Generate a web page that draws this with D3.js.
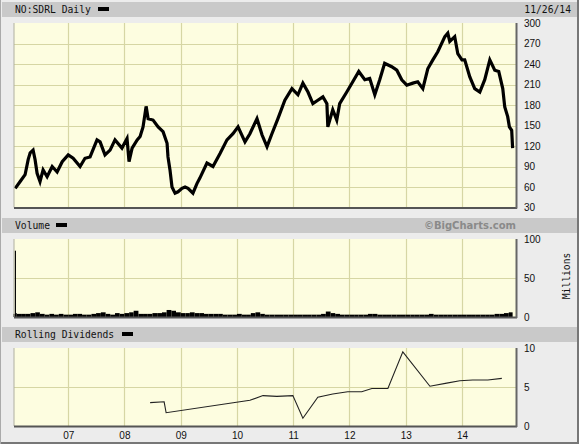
<!DOCTYPE html>
<html><head><meta charset="utf-8">
<script src="https://cdn.jsdelivr.net/npm/d3@7"></script>
<style>body{margin:0;background:#ececec}svg{display:block}</style>
</head><body><svg id="c" width="579" height="444"></svg>
<script>
// ---------- DATA ----------
const title = "NO:SDRL Daily";
const dateLabel = "11/26/14";
const priceDates = ["2006-01-22","2006-02-23","2006-03-27","2006-04-16","2006-04-29","2006-05-18","2006-05-31","2006-06-13","2006-07-02","2006-07-22","2006-08-17","2006-09-19","2006-10-21","2006-11-23",
"2007-01-01","2007-02-02","2007-03-19","2007-04-20","2007-05-23","2007-07-07","2007-07-27","2007-08-28","2007-09-30","2007-11-01","2007-12-16",
"2008-01-18","2008-01-31","2008-02-20","2008-03-24","2008-04-12","2008-05-01","2008-05-21","2008-06-03","2008-07-05","2008-08-07","2008-09-08","2008-10-04","2008-10-10","2008-10-23","2008-11-05","2008-11-25","2008-12-14",
"2009-01-09","2009-01-29","2009-02-17","2009-03-21","2009-04-16","2009-05-05","2009-06-20","2009-07-29","2009-09-13","2009-10-28","2009-12-06",
"2010-01-08","2010-02-22","2010-03-26","2010-05-11","2010-06-13","2010-07-15","2010-08-16","2010-09-24","2010-11-08","2010-12-24",
"2011-02-01","2011-03-05","2011-04-07","2011-05-09","2011-06-10","2011-07-13","2011-08-08","2011-08-14","2011-09-15","2011-10-11","2011-10-30","2011-12-15",
"2012-01-23","2012-03-02","2012-04-10","2012-05-12","2012-06-14","2012-07-16","2012-08-17","2012-10-02","2012-11-04","2012-12-06",
"2013-01-08","2013-02-16","2013-03-20","2013-04-22","2013-05-24","2013-06-26","2013-07-28","2013-09-12","2013-10-01","2013-10-14","2013-11-15","2013-12-05",
"2014-01-01","2014-01-19","2014-02-21","2014-03-25","2014-04-27","2014-05-29","2014-07-01","2014-08-02","2014-08-28","2014-09-23","2014-10-06","2014-10-25","2014-11-05","2014-11-20","2014-11-26"];
const priceValues = [58,68,78,100,110,114,100,80,68,85,75,90,82,97,
107,102,90,102,104,129,126,107,114,129,117,
131,97,117,129,134,148,178,160,158,148,141,124,104,85,60,51,53,
58,60,58,51,65,73,95,90,109,129,138,
148,126,138,160,136,119,138,160,187,204,
195,212,199,182,187,192,182,148,173,158,182,199,
214,229,217,219,195,217,241,236,231,217,
209,212,214,204,233,246,258,280,285,273,280,255,
246,246,221,204,199,217,246,231,229,204,177,163,148,143,117];

const volDates = ["2006-01-10","2006-01-19","2006-01-21","2006-02-01","2006-03-01","2006-04-01","2006-05-01","2006-06-01","2006-07-01","2006-08-01","2006-09-01","2006-10-01","2006-11-01","2006-12-01",
"2007-01-01","2007-02-01","2007-03-01","2007-04-01","2007-05-01","2007-06-01","2007-07-01","2007-08-01","2007-09-01","2007-10-01","2007-11-01","2007-12-01",
"2008-01-01","2008-02-01","2008-03-01","2008-04-01","2008-05-01","2008-06-01","2008-07-01","2008-08-01","2008-09-01","2008-10-01","2008-11-01","2008-12-01",
"2009-01-01","2009-02-01","2009-03-01","2009-04-01","2009-05-01","2009-06-01","2009-07-01","2009-08-01","2009-09-01","2009-10-01","2009-11-01","2009-12-01",
"2010-01-01","2010-02-01","2010-03-01","2010-04-01","2010-05-01","2010-06-01","2010-07-01","2010-08-01","2010-09-01","2010-10-01","2010-11-01","2010-12-01",
"2011-01-01","2011-02-01","2011-03-01","2011-04-01","2011-05-01","2011-06-01","2011-07-01","2011-08-01","2011-09-01","2011-10-01","2011-11-01","2011-12-01",
"2012-01-01","2012-02-01","2012-03-01","2012-04-01","2012-05-01","2012-06-01","2012-07-01","2012-08-01","2012-09-01","2012-10-01","2012-11-01","2012-12-01",
"2013-01-01","2013-02-01","2013-03-01","2013-04-01","2013-05-01","2013-06-01","2013-07-01","2013-08-01","2013-09-01","2013-10-01","2013-11-01","2013-12-01",
"2014-01-01","2014-02-01","2014-03-01","2014-04-01","2014-05-01","2014-06-01","2014-07-01","2014-08-01","2014-09-01","2014-10-01","2014-11-01","2014-11-26"];
const volValues = [4,85,5,4,4,4,5,6,4,3,4,3,4,3,
3,4,4,3,3,4,5,6,4,3,5,4,
5,6,8,4,4,4,5,5,6,9,8,6,
5,5,6,5,5,4,4,4,4,3,3,3,
4,3,3,5,6,4,3,3,3,3,3,3,
3,3,3,3,3,3,4,7,5,4,3,3,
3,3,3,3,4,4,3,3,3,3,3,3,
3,3,3,3,3,4,3,3,3,3,3,3,
3,3,3,3,3,3,3,4,4,5,6,6];

const divDates = ["2008-06-16","2008-09-15","2008-09-28","2010-03-26","2010-06-19","2010-09-17","2010-12-30","2011-03-05","2011-06-10","2011-09-15","2011-12-21","2012-03-21","2012-05-26","2012-09-07","2012-12-13","2013-06-07","2013-09-24","2013-12-18","2014-03-12","2014-06-18","2014-09-17"];
const divValues = [3.0,3.1,1.7,3.3,3.9,3.8,3.9,1.0,3.7,4.1,4.4,4.4,4.8,4.8,9.5,5.1,5.5,5.8,5.9,5.9,6.1];

const priceTicks = [30,60,90,120,150,180,210,240,270,300];
const volTicks = [0,50,100];
const divTicks = [0,5,10];
const yearTicks = ["2007","2008","2009","2010","2011","2012","2013","2014"];
const yearLabels = ["07","08","09","10","11","12","13","14"];

// ---------- DRAW ----------
const P = d3.timeParse("%Y-%m-%d");
const svg = d3.select("#c");
const L = 14, R = 516;
const x = d3.scaleTime().domain([P("2006-01-14"), P("2014-12-18")]).range([L, R]);
const gridC = "#d6d6a4", bgC = "#fdfde0", barC = "#c9c9c9";
const monoF = "'DejaVu Sans Mono', monospace";
const axF = "'Liberation Sans', Arial, sans-serif";

svg.append("rect").attr("width",579).attr("height",444).attr("fill","#ececec");

function header(y0, label, swX) {
  svg.append("rect").attr("x",2).attr("y",y0).attr("width",575).attr("height",15).attr("fill",barC);
  svg.append("text").attr("x",15).attr("y",y0+11).attr("font-family",monoF).attr("font-size","9.7px").attr("fill","#111").text(label);
  svg.append("rect").attr("x",swX).attr("y",y0+5).attr("width",11).attr("height",4).attr("fill","#000");
}

function panel(top, bottom, y, ticks, gridVals) {
  svg.append("rect").attr("x",L).attr("y",top).attr("width",R-L).attr("height",bottom-top).attr("fill",bgC);
  const g = svg.append("g");
  g.selectAll("line.h").data(gridVals).join("line")
    .attr("x1",L).attr("x2",R).attr("y1",d=>Math.round(y(d))+0.5).attr("y2",d=>Math.round(y(d))+0.5)
    .attr("stroke",gridC).attr("stroke-width",1.2);
  g.selectAll("line.v").data(yearTicks).join("line")
    .attr("x1",d=>Math.round(x(P(d+"-01-01")))+0.5).attr("x2",d=>Math.round(x(P(d+"-01-01")))+0.5)
    .attr("y1",top).attr("y2",bottom).attr("stroke",gridC).attr("stroke-width",1.2);
  const ax = d3.axisRight(y).tickValues(ticks).tickSize(0).tickPadding(8);
  const a = svg.append("g").attr("transform",`translate(${R},0)`).call(ax);
  a.select(".domain").remove();
  a.selectAll("text").attr("font-family",axF).attr("font-size","10px").attr("fill","#111");
  return g;
}
function borders(top,bottom){
  svg.append("line").attr("x1",L).attr("x2",L).attr("y1",top).attr("y2",bottom).attr("stroke","#b0b0a0").attr("stroke-width",1);
  svg.append("line").attr("x1",L).attr("x2",R+1).attr("y1",bottom+0.5).attr("y2",bottom+0.5).attr("stroke","#555").attr("stroke-width",2);
  svg.append("line").attr("x1",R+0.5).attr("x2",R+0.5).attr("y1",top).attr("y2",bottom+1).attr("stroke","#666").attr("stroke-width",2);
}

// Title bar
header(2, title, 98);
svg.append("text").attr("x",571).attr("y",13).attr("text-anchor","end").attr("font-family",monoF).attr("font-size","9.7px").attr("fill","#111").text(dateLabel);

// Main price panel
const yP = d3.scaleLinear().domain([30,300]).range([207.5,23]);
panel(23, 207.5, yP, priceTicks, priceTicks.slice(1,-1));
const pdata = priceDates.map((d,i)=>({d:P(d), v:priceValues[i]}));
svg.append("path").datum(pdata)
  .attr("d", d3.line().x(d=>x(d.d)).y(d=>yP(d.v)))
  .attr("fill","none").attr("stroke","#000").attr("stroke-width",3.2).attr("stroke-linejoin","miter");
borders(23,207.5);

// Volume panel
header(218, "Volume", 56);
svg.append("text").attr("x",516).attr("y",229).attr("text-anchor","end").attr("font-family","'DejaVu Sans', sans-serif").attr("font-weight","bold").attr("font-size","10px").attr("fill","#8a8a8a").text("\u00A9BigCharts.com");
const yV = d3.scaleLinear().domain([0,100]).range([317,239]);
panel(239, 317, yV, volTicks, [50]);
const vdata = volDates.map((d,i)=>({d:P(d), v:volValues[i]}));
svg.append("g").selectAll("rect").data(vdata.slice(0,-1)).join("rect")
  .attr("x", d=>x(d.d))
  .attr("width", (d,i)=>Math.max(1.2, x(vdata[i+1].d)-x(d.d)))
  .attr("y", d=>yV(d.v))
  .attr("height", d=>yV(0)-yV(d.v))
  .attr("fill","#000");
borders(239,317);
svg.append("text").attr("transform","translate(570,276) rotate(-90)").attr("text-anchor","middle")
  .attr("font-family",monoF).attr("font-size","9.7px").attr("fill","#111").text("Millions");

// Dividends panel
header(327, "Rolling Dividends", 122);
const yD = d3.scaleLinear().domain([0,10]).range([426,348]);
panel(348, 426, yD, divTicks, [5]);
const ddata = divDates.map((d,i)=>({d:P(d), v:divValues[i]}));
svg.append("path").datum(ddata)
  .attr("d", d3.line().x(d=>x(d.d)).y(d=>yD(d.v)))
  .attr("fill","none").attr("stroke","#222").attr("stroke-width",1.1);
borders(348,426);

// X axis
const xa = d3.axisBottom(x).tickValues(yearTicks.map(d=>P(d+"-01-01"))).tickSize(0).tickPadding(5)
  .tickFormat((d,i)=>yearLabels[i]);
const xg = svg.append("g").attr("transform","translate(0,427)").call(xa);
xg.select(".domain").remove();
xg.selectAll("text").attr("font-family",axF).attr("font-size","10px").attr("fill","#111");

// outer frame
svg.append("line").attr("x1",578).attr("x2",578).attr("y1",0).attr("y2",444).attr("stroke","#777").attr("stroke-width",2);
svg.append("line").attr("x1",0).attr("x2",579).attr("y1",443).attr("y2",443).attr("stroke","#777").attr("stroke-width",2);
svg.append("line").attr("x1",0.5).attr("x2",0.5).attr("y1",0).attr("y2",444).attr("stroke","#aaa").attr("stroke-width",1);
</script>
</body></html>
